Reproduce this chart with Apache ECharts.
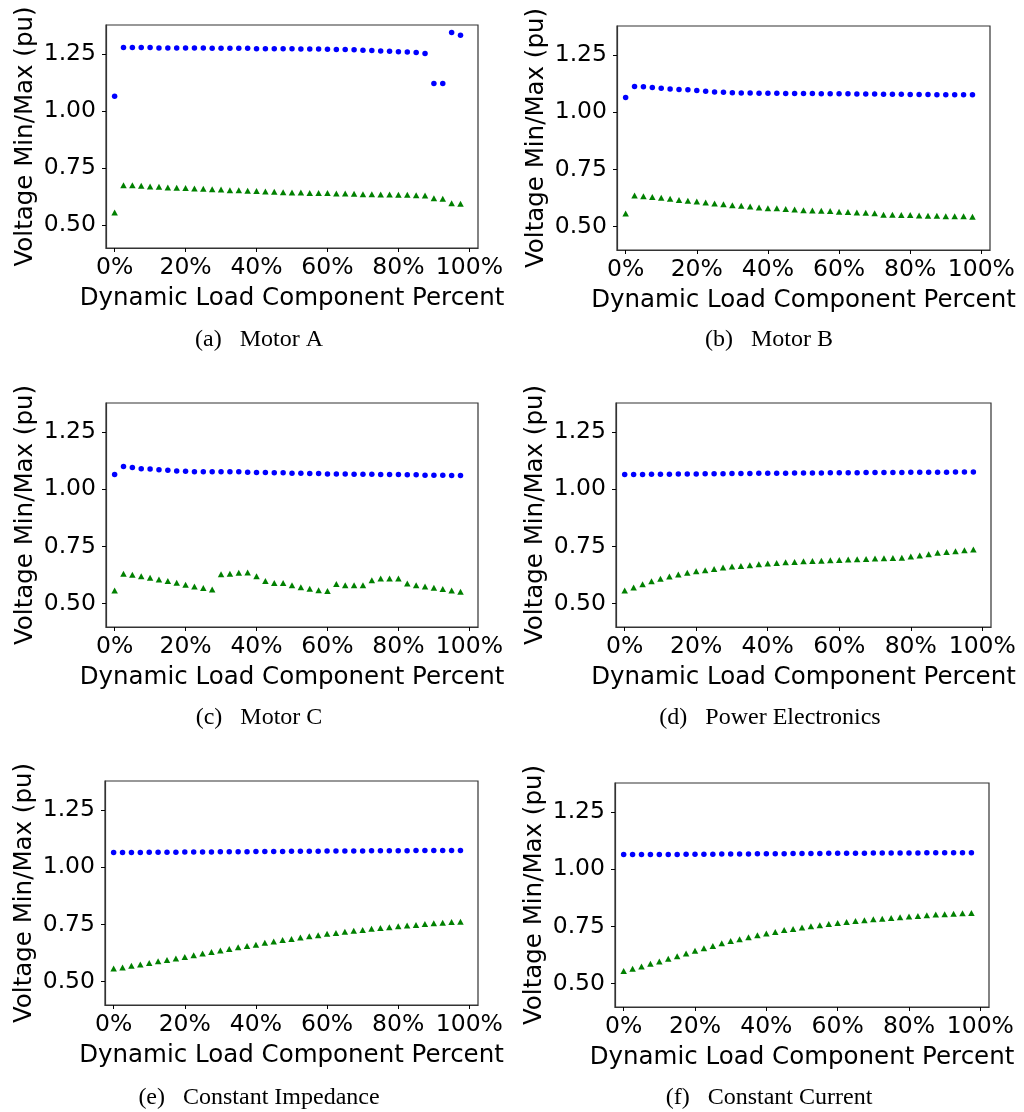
<!DOCTYPE html>
<html><head><meta charset="utf-8">
<script src="https://cdn.jsdelivr.net/npm/echarts@6/dist/echarts.min.js"></script>
<style>html,body{margin:0;padding:0;background:#fff}#c{width:1024px;height:1112px}</style>
</head><body><div id="c"></div>
<script>
const percent = [0,2.5,5,7.5,10,12.5,15,17.5,20,22.5,25,27.5,30,32.5,35,37.5,40,42.5,45,47.5,50,52.5,55,57.5,60,62.5,65,67.5,70,72.5,75,77.5,80,82.5,85,87.5,90,92.5,95,97.5];
const xTicks = [0,20,40,60,80,100];
const yTicks = [0.5,0.75,1.0,1.25];
const captions = ["(a)   Motor A","(b)   Motor B","(c)   Motor C","(d)   Power Electronics","(e)   Constant Impedance","(f)   Constant Current"];

const motorAMax = [1.064,1.278,1.278,1.278,1.278,1.276,1.276,1.276,1.276,1.276,1.276,1.275,1.275,1.275,1.275,1.275,1.273,1.273,1.273,1.273,1.273,1.272,1.272,1.272,1.270,1.269,1.269,1.268,1.266,1.265,1.263,1.262,1.260,1.259,1.256,1.252,1.120,1.120,1.344,1.332];
const motorAMin = [0.554,0.674,0.674,0.671,0.668,0.667,0.664,0.662,0.661,0.659,0.658,0.656,0.655,0.652,0.651,0.649,0.648,0.646,0.645,0.643,0.642,0.642,0.640,0.640,0.639,0.637,0.637,0.636,0.634,0.634,0.633,0.633,0.632,0.632,0.630,0.629,0.616,0.614,0.595,0.592];
const motorBMax = [1.065,1.113,1.111,1.108,1.105,1.102,1.099,1.098,1.095,1.092,1.089,1.087,1.085,1.084,1.084,1.083,1.083,1.083,1.082,1.082,1.082,1.082,1.081,1.081,1.081,1.081,1.080,1.080,1.080,1.079,1.079,1.079,1.078,1.078,1.078,1.077,1.077,1.077,1.076,1.076];
const motorBMin = [0.557,0.636,0.633,0.630,0.626,0.622,0.617,0.613,0.610,0.606,0.601,0.598,0.594,0.591,0.588,0.584,0.581,0.580,0.577,0.575,0.572,0.571,0.570,0.568,0.565,0.564,0.562,0.561,0.559,0.552,0.552,0.551,0.551,0.549,0.548,0.548,0.546,0.546,0.545,0.543];
const motorCMax = [1.064,1.099,1.095,1.090,1.088,1.085,1.083,1.080,1.079,1.077,1.077,1.076,1.076,1.076,1.076,1.074,1.073,1.073,1.072,1.072,1.070,1.070,1.069,1.069,1.067,1.067,1.067,1.066,1.066,1.066,1.064,1.064,1.064,1.063,1.063,1.061,1.061,1.061,1.060,1.060];
const motorCMin = [0.557,0.631,0.626,0.620,0.613,0.606,0.599,0.591,0.583,0.575,0.568,0.562,0.628,0.631,0.635,0.636,0.620,0.599,0.590,0.590,0.581,0.572,0.565,0.559,0.555,0.586,0.581,0.581,0.581,0.602,0.610,0.610,0.610,0.588,0.581,0.575,0.570,0.564,0.558,0.552];
const powerElecMax = [1.065,1.065,1.065,1.066,1.066,1.066,1.067,1.067,1.067,1.068,1.068,1.068,1.069,1.069,1.069,1.070,1.070,1.070,1.070,1.071,1.071,1.071,1.071,1.072,1.072,1.072,1.072,1.073,1.073,1.073,1.073,1.073,1.074,1.074,1.074,1.074,1.074,1.075,1.075,1.075];
const powerElecMin = [0.557,0.571,0.585,0.598,0.609,0.619,0.627,0.635,0.642,0.646,0.652,0.658,0.662,0.665,0.668,0.672,0.675,0.678,0.681,0.682,0.685,0.687,0.688,0.690,0.691,0.693,0.694,0.695,0.697,0.698,0.700,0.701,0.706,0.710,0.716,0.722,0.726,0.729,0.733,0.737];
const constZMax = [1.065,1.065,1.065,1.065,1.066,1.066,1.066,1.066,1.067,1.067,1.067,1.067,1.068,1.068,1.068,1.068,1.069,1.069,1.069,1.069,1.070,1.070,1.070,1.070,1.071,1.071,1.071,1.071,1.071,1.072,1.072,1.072,1.072,1.072,1.073,1.073,1.073,1.073,1.073,1.073];
const constZMin = [0.558,0.562,0.569,0.575,0.582,0.589,0.595,0.601,0.608,0.615,0.623,0.630,0.636,0.643,0.650,0.656,0.661,0.670,0.676,0.682,0.687,0.693,0.698,0.703,0.709,0.713,0.718,0.722,0.726,0.731,0.735,0.738,0.742,0.745,0.748,0.752,0.755,0.758,0.761,0.762];
const constIMax = [1.064,1.064,1.064,1.065,1.065,1.065,1.065,1.066,1.066,1.066,1.066,1.067,1.067,1.067,1.067,1.068,1.068,1.068,1.068,1.069,1.069,1.069,1.069,1.070,1.070,1.070,1.070,1.070,1.071,1.071,1.071,1.071,1.071,1.071,1.072,1.072,1.072,1.072,1.072,1.072];
const constIMin = [0.555,0.565,0.575,0.587,0.597,0.609,0.620,0.632,0.644,0.655,0.665,0.677,0.686,0.694,0.703,0.712,0.719,0.726,0.734,0.739,0.745,0.751,0.755,0.761,0.765,0.770,0.774,0.777,0.781,0.784,0.787,0.790,0.793,0.796,0.799,0.802,0.803,0.806,0.808,0.809];

const panels = [
  {max: motorAMax, min: motorAMin},
  {max: motorBMax, min: motorBMin},
  {max: motorCMax, min: motorCMin},
  {max: powerElecMax, min: powerElecMin},
  {max: constZMax, min: constZMin},
  {max: constIMax, min: constIMin}
];

const boxes = [
  {l:106, t:25,  w:372, h:223, cx:259, cy:340},
  {l:617, t:26,  w:373, h:224, cx:769, cy:340},
  {l:106, t:403, w:372, h:224, cx:259, cy:718},
  {l:616, t:403, w:375, h:224, cx:770, cy:718},
  {l:105, t:781, w:373, h:224, cx:259, cy:1098},
  {l:615, t:783, w:374, h:224, cx:769, cy:1098}
];

const tickFont = {fontFamily:'DejaVu Sans', fontSize:23.5, color:'#000'};
const nameFont = {fontFamily:'DejaVu Sans', fontSize:24.5, color:'#000'};

const grid=[], xAxis=[], yAxis=[], series=[];
boxes.forEach((b,i)=>{
  grid.push({left:b.l, top:b.t, width:b.w, height:b.h, show:true, borderColor:'#333', borderWidth:1.2, backgroundColor:'transparent', containLabel:false});
  xAxis.push({type:'value', gridIndex:i, min:-2.43, max:102.43,
    name:'Dynamic Load Component Percent', nameLocation:'middle', nameGap:38, nameTextStyle:nameFont,
    axisLine:{show:true, onZero:false, lineStyle:{color:'#333', width:1.2}}, splitLine:{show:false},
    axisTick:{show:true, inside:false, length:4, lineStyle:{color:'#000', width:1}, customValues:xTicks},
    axisLabel:{show:true, margin:8, customValues:xTicks, formatter:v=>Math.round(v)+'%', ...tickFont}
  });
  yAxis.push({type:'value', gridIndex:i, min:0.398, max:1.377,
    name:'Voltage Min/Max (pu)', nameLocation:'middle', nameRotate:90, nameGap:68, nameTextStyle:nameFont,
    axisLine:{show:true, onZero:false, lineStyle:{color:'#333', width:1.2}}, splitLine:{show:false},
    axisTick:{show:true, inside:false, length:4, lineStyle:{color:'#000', width:1}, customValues:yTicks},
    axisLabel:{show:true, margin:10, customValues:yTicks, formatter:v=>v.toFixed(2), ...tickFont}
  });
  const p = panels[i];
  series.push({type:'scatter', xAxisIndex:i, yAxisIndex:i, symbol:'circle', symbolSize:5.5,
    itemStyle:{color:'#0000ff', opacity:1}, data: percent.map((x,j)=>[x,p.max[j]]), silent:true, animation:false});
  series.push({type:'scatter', xAxisIndex:i, yAxisIndex:i, symbol:'triangle', symbolSize:[6.5,6],
    itemStyle:{color:'#008000', opacity:1}, data: percent.map((x,j)=>[x,p.min[j]]), silent:true, animation:false});
});

const chart = echarts.init(document.getElementById('c'), null, {renderer:'canvas'});
chart.setOption({animation:false, backgroundColor:'#fff', grid, xAxis, yAxis, series,
  graphic: captions.map((c,i)=>({type:'text', x:boxes[i].cx, y:boxes[i].cy,
    style:{text:c, font:'24px "Liberation Serif", serif', fill:'#000', align:'center', verticalAlign:'middle'}}))
});
</script></body></html>
